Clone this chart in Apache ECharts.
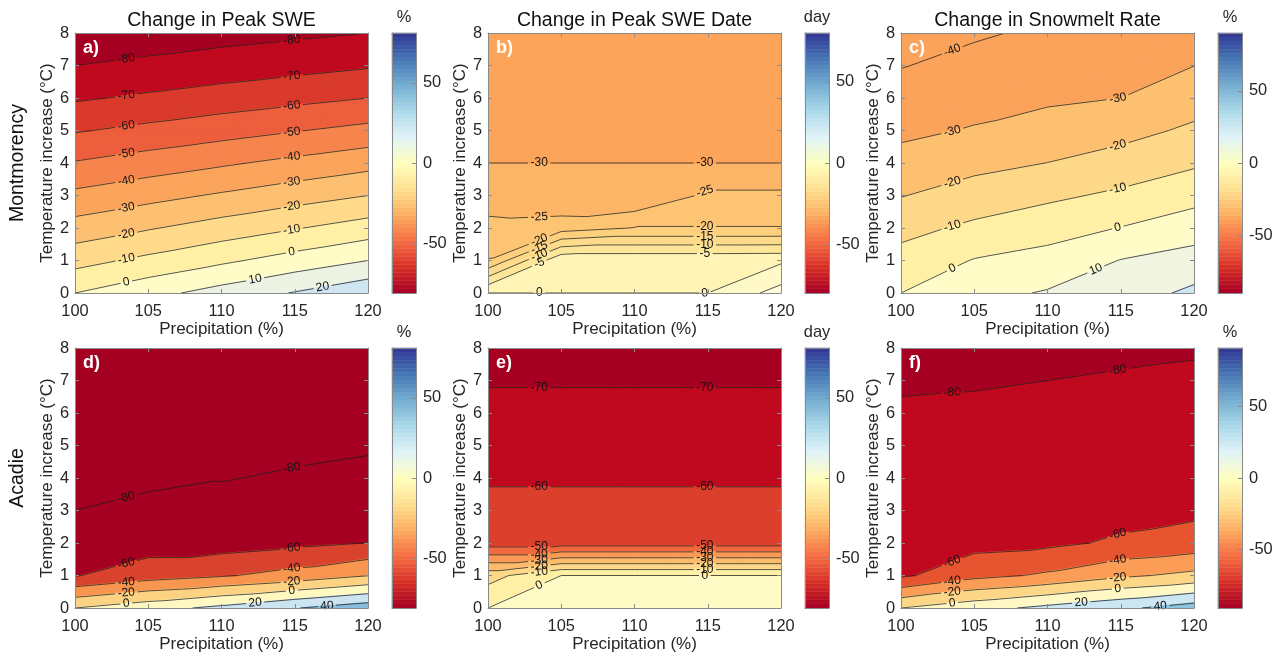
<!DOCTYPE html>
<html>
<head>
<meta charset="utf-8">
<title>Snow response to warming and precipitation</title>
<script src="https://cdn.jsdelivr.net/npm/echarts@6.0.0/dist/echarts.min.js"></script>
<style>
    html, body { margin: 0; padding: 0; background: #fff; }
    #chart { width: 1281px; height: 657px; }
</style>
</head>
<body>
<div id="chart"></div>
<script>
    // grid of the scenarios
    var precip = [100, 105, 110, 115, 120];
    var warming = [0, 1, 2, 3, 4, 5, 6, 7, 8];

    // rows = warming 0..8 °C, columns = precipitation 100..120 %
    var peakSweMont = [
      [0, 6.9, 13.8, 20.6, 27.5],
      [-13.5, -7.6, -1.8, 4.1, 10],
      [-25.9, -20.8, -15.7, -10.6, -5.5],
      [-37.6, -33.2, -28.8, -24.4, -20],
      [-49.3, -45.3, -41.4, -37.4, -33.4],
      [-60.8, -57.4, -54.0, -50.5, -47.1],
      [-71.2, -68.4, -65.6, -62.8, -60],
      [-80, -77.8, -75.5, -73.3, -71],
      [-87, -85.3, -83.5, -81.8, -80]
    ];
    var peakDateMont = [
      [0, 0, 0, 0, 7],
      [-19.8, -1, -1, -1, -0.8],
      [-23, -22.3, -19.8, -19.8, -19.8],
      [-28.5, -29.6, -30, -24, -24],
      [-30, -30, -30, -30, -30],
      [-31, -31, -31, -31, -31],
      [-32, -32, -32, -32, -32],
      [-33, -33, -33, -33, -33],
      [-33, -33, -33, -33, -33]
    ];
    var meltRateMont = [
      [0, 7, 10.8, 15.1, 22.1],
      [-6.3, 0.5, 3.6, 10.3, 14.0],
      [-13.1, -8.0, -4.1, 0.3, 5.4],
      [-20.4, -15.7, -11.9, -8.2, -3.4],
      [-26.7, -22.8, -19.9, -16.0, -11.4],
      [-32.0, -29.3, -26.1, -23.2, -18.3],
      [-36.2, -33.4, -31.5, -30.0, -24.4],
      [-40.4, -37.3, -35.5, -34.0, -30.1],
      [-45.0, -41.1, -38.5, -38.0, -35.0]
    ];
    var peakSweAcad = [
      [0, 12.3, 25, 39, 51.8],
      [-61, -49.2, -42, -32.7, -20.5],
      [-70.3, -68.8, -68.9, -64.4, -59.8],
      [-80, -76, -77, -74, -70],
      [-83, -83, -80.4, -79, -78],
      [-85, -85, -83, -82, -80.9],
      [-86, -86, -85, -84, -83],
      [-87, -87, -86, -85, -85],
      [-88, -88, -87, -86, -86]
    ];
    var peakDateAcad = [
      [0, 0, 0, 0, 0],
      [-13.9, 0, 0, 0, 0],
      [-55, -55, -55, -55, -55],
      [-57.3, -57.3, -57.3, -57.3, -57.3],
      [-61, -61, -61, -61, -61],
      [-64, -64, -64, -64, -64],
      [-67.5, -67.5, -67.5, -67.5, -67.5],
      [-70.7, -70.7, -70.7, -70.7, -70.7],
      [-73, -73, -73, -73, -73]
    ];
    var meltRateAcad = [
      [0, 12.9, 25, 36, 49.7],
      [-63.5, -45.9, -37, -23.6, -14.8],
      [-69, -66.6, -64.1, -57, -51.9],
      [-72.5, -71, -70, -67, -64],
      [-75, -74, -73, -71, -68],
      [-77, -76.5, -75.5, -74, -71.5],
      [-79, -78.8, -78, -76.5, -74.5],
      [-81, -80.6, -80, -78.5, -77.5],
      [-83, -82.5, -82, -83, -81.5]
    ];

    // contour levels
    var levelsSweMont = [-80, -70, -60, -50, -40, -30, -20, -10, 0, 10, 20];
    var levelsDateMont = [-30, -25, -20, -15, -10, -5, 0, 5];
    var levelsMeltMont = [-40, -30, -20, -10, 0, 10, 20];
    var levelsSweAcad = [-80, -60, -40, -20, 0, 20, 40];
    var levelsDateAcad = [-70, -60, -50, -40, -30, -20, -10, 0];
    var levelsMeltAcad = [-80, -60, -40, -20, 0, 20, 40];

    // colour limits of the colorbars (symmetric)
    var climits = [81, 80, 90, 81, 81, 91];
    var colorbarTicks = [-50, 0, 50];

    var titles = ['Change in Peak SWE', 'Change in Peak SWE Date', 'Change in Snowmelt Rate'];
    var units = ['%', 'day', '%'];
    var sites = ['Montmorency', 'Acadie'];
    var letters = ['a)', 'b)', 'c)', 'd)', 'e)', 'f)'];

    // band fill colours, lowest band first
    var fillsSweMont = ['#a50021', '#c0081f', '#d93a2b', '#ec5e3c', '#f6844d', '#fba45c', '#fdbf71', '#feda8a', '#fff0a6', '#fffcc8', '#edf3e3', '#cfe6f1'];
    var fillsDateMont = ['#fca55a', '#fdb567', '#fdc573', '#fed07e', '#fedb8b', '#fee699', '#fff4b6', '#fff9c8', '#fffcdc'];
    var fillsMeltMont = ['#fba35b', '#fba35b', '#fdbf70', '#fed889', '#fff0a6', '#fffcc8', '#f0f4e0', '#cde6f2'];
    var fillsSweAcad = ['#a50021', '#a50021', '#d9432d', '#f8964f', '#fed283', '#fff8c0', '#cbe4f0', '#88bddb'];
    var fillsDateAcad = ['#a50021', '#c0081f', '#dc3f2c', '#f3693f', '#fb9a55', '#fdbb6c', '#fed888', '#fff0a6', '#fffbc6'];
    var fillsMeltAcad = ['#a50021', '#c0081f', '#e6552f', '#fb9d57', '#fed687', '#fff8c4', '#cce6f2', '#8ec3e0'];

    var rdylbu = ['#a50026', '#d73027', '#f46d43', '#fdae61', '#fee090', '#ffffbf', '#e0f3f8', '#abd9e9', '#74add1', '#4575b4', '#313695'];

    var panels = [
      {values: peakSweMont, levels: levelsSweMont, fills: fillsSweMont, labelOverride: {10: [112.3], 20: [116.9]}},
      {values: peakDateMont, levels: levelsDateMont, fills: fillsDateMont, labelOverride: {5: []}},
      {values: meltRateMont, levels: levelsMeltMont, fills: fillsMeltMont, labelOverride: {10: [113.3], 20: []}},
      {values: peakSweAcad, levels: levelsSweAcad, fills: fillsSweAcad, labelOverride: {20: [112.3], 40: [117.2]}},
      {values: peakDateAcad, levels: levelsDateAcad, fills: fillsDateAcad, labelOverride: {}},
      {values: meltRateAcad, levels: levelsMeltAcad, fills: fillsMeltAcad, labelOverride: {20: [112.3], 40: [117.7]}}
    ];
    var labelXs = [103.5, 114.8];

    // layout
    var plotLeft = [75, 488, 901];
    var plotTop = [33, 348];
    var plotW = 293, plotH = 260;
    var cbLeft = [392, 805, 1218];
    var cbW = 24;
    var fontFam = '"Liberation Sans", Arial, sans-serif';
    var labelFont = '12px ' + fontFam;
    var boxColor = '#8a8a8a';
    var textColor = '#262626';

    var mctx = document.createElement('canvas').getContext('2d');
    mctx.font = labelFont;

    function hexRgb(h) {
      return [parseInt(h.substr(1, 2), 16), parseInt(h.substr(3, 2), 16), parseInt(h.substr(5, 2), 16)];
    }
    function cmap(t) {
      t = Math.max(0, Math.min(1, t));
      var s = t * (rdylbu.length - 1), k = Math.min(Math.floor(s), rdylbu.length - 2), u = s - k;
      var a = hexRgb(rdylbu[k]), b = hexRgb(rdylbu[k + 1]);
      return 'rgb(' + a.map(function (c, n) { return Math.round(c + u * (b[n] - c)); }).join(',') + ')';
    }

    // linear interpolation on the triangulated grid (diagonal bottom-left to top-right)
    function valueAt(values, x, y) {
      var i = 0; while (i < precip.length - 2 && x > precip[i + 1]) i++;
      var j = 0; while (j < warming.length - 2 && y > warming[j + 1]) j++;
      var u = (x - precip[i]) / (precip[i + 1] - precip[i]);
      var v = (y - warming[j]) / (warming[j + 1] - warming[j]);
      var f00 = values[j][i], f10 = values[j][i + 1], f01 = values[j + 1][i], f11 = values[j + 1][i + 1];
      if (u >= v) return f00 + u * (f10 - f00) + v * (f11 - f10);
      return f00 + v * (f01 - f00) + u * (f11 - f01);
    }
    function crossingY(values, x, level) {
      var y0 = warming[0], y1 = warming[warming.length - 1], n = 1600;
      var prevY = y0, prev = valueAt(values, x, y0);
      for (var k = 1; k <= n; k++) {
        var y = y0 + (y1 - y0) * k / n;
        var cur = valueAt(values, x, y);
        if ((prev >= level) !== (cur >= level)) {
          return prevY + (level - prev) / (cur - prev) * (y - prevY);
        }
        prev = cur; prevY = y;
      }
      return null;
    }

    function cellData(values) {
      var items = [];
      for (var j = 0; j < warming.length - 1; j++) {
        for (var i = 0; i < precip.length - 1; i++) {
          items.push([precip[i], warming[j], precip[i + 1], warming[j + 1],
            values[j][i], values[j][i + 1], values[j + 1][i], values[j + 1][i + 1]]);
        }
      }
      return items;
    }

    function labelData(p) {
      var items = [];
      p.levels.forEach(function (lev) {
        var xs = p.labelOverride.hasOwnProperty(lev) ? p.labelOverride[lev] : labelXs;
        xs.forEach(function (x) {
          var y = crossingY(p.values, x, lev);
          if (y === null) return;
          var ya = crossingY(p.values, x - 0.4, lev), yb = crossingY(p.values, x + 0.4, lev);
          if (ya === null) ya = y;
          if (yb === null) yb = y;
          items.push([x, y, lev, x - 0.4, ya, x + 0.4, yb]);
        });
      });
      return items;
    }

    function clipHalf(poly, L, keepAbove) {
      var out = [];
      for (var k = 0; k < poly.length; k++) {
        var P = poly[k], Q = poly[(k + 1) % poly.length];
        var pin = keepAbove ? P.f >= L : P.f <= L;
        var qin = keepAbove ? Q.f >= L : Q.f <= L;
        if (pin) out.push(P);
        if (pin !== qin) {
          var t = (L - P.f) / (Q.f - P.f);
          out.push({x: P.x + t * (Q.x - P.x), y: P.y + t * (Q.y - P.y), f: L});
        }
      }
      return out;
    }

    function triSegment(tri, L) {
      var above = tri.map(function (p) { return p.f >= L; });
      var cnt = above.filter(Boolean).length;
      if (cnt === 0 || cnt === 3) return null;
      var lone;
      for (var k = 0; k < 3; k++) {
        if ((cnt === 1 && above[k]) || (cnt === 2 && !above[k])) lone = k;
      }
      var a = tri[lone], o1 = tri[(lone + 1) % 3], o2 = tri[(lone + 2) % 3];
      var t1 = (L - a.f) / (o1.f - a.f), t2 = (L - a.f) / (o2.f - a.f);
      return [
        [a.x + t1 * (o1.x - a.x), a.y + t1 * (o1.y - a.y)],
        [a.x + t2 * (o2.x - a.x), a.y + t2 * (o2.y - a.y)]
      ];
    }

    function cutByCircle(seg, c, r) {
      var a = seg[0], b = seg[1];
      var dx = b[0] - a[0], dy = b[1] - a[1];
      var fx = a[0] - c[0], fy = a[1] - c[1];
      var A = dx * dx + dy * dy, B = 2 * (fx * dx + fy * dy), C = fx * fx + fy * fy - r * r;
      var disc = B * B - 4 * A * C;
      if (A < 1e-9 || disc <= 0) return [seg];
      var sq = Math.sqrt(disc), t1 = (-B - sq) / (2 * A), t2 = (-B + sq) / (2 * A);
      if (t2 <= 0 || t1 >= 1) return [seg];
      var res = [];
      if (t1 > 0) res.push([a, [a[0] + t1 * dx, a[1] + t1 * dy]]);
      if (t2 < 1) res.push([[a[0] + t2 * dx, a[1] + t2 * dy], b]);
      return res;
    }

    function cellTris(api) {
      var x0 = api.value(0), y0 = api.value(1), x1 = api.value(2), y1 = api.value(3);
      var P00 = {x: x0, y: y0, f: api.value(4)}, P10 = {x: x1, y: y0, f: api.value(5)};
      var P01 = {x: x0, y: y1, f: api.value(6)}, P11 = {x: x1, y: y1, f: api.value(7)};
      return [[P00, P10, P11], [P00, P01, P11]];
    }

    var grids = [], xAxes = [], yAxes = [], series = [], texts = [];

    function addAxes(gi, xmin, xmax, ymin, ymax, isBar) {
      var line = {show: true, onZero: false, lineStyle: {color: boxColor, width: 1}};
      var tick = {show: !isBar, inside: true, length: 4, lineStyle: {color: boxColor, width: 1}};
      var none = {show: false};
      xAxes.push({gridIndex: gi, type: 'value', position: 'bottom', min: xmin, max: xmax, interval: isBar ? 1 : 5, z: 5,
        axisLine: line, axisTick: tick, splitLine: none,
        axisLabel: isBar ? none : {show: true, color: textColor, fontSize: 16.4, fontFamily: fontFam, margin: 10, showMinLabel: true, showMaxLabel: true}});
      xAxes.push({gridIndex: gi, type: 'value', position: 'top', min: xmin, max: xmax, interval: isBar ? 1 : 5, z: 5,
        axisLine: line, axisTick: tick, splitLine: none, axisLabel: none});
      yAxes.push({gridIndex: gi, type: 'value', position: 'left', min: ymin, max: ymax, interval: isBar ? undefined : 1, z: 5,
        axisLine: line, axisTick: tick, splitLine: none,
        axisLabel: isBar ? none : {show: true, color: textColor, fontSize: 16.4, fontFamily: fontFam, margin: 6, showMinLabel: true, showMaxLabel: true}});
      yAxes.push({gridIndex: gi, type: 'value', position: 'right', min: ymin, max: ymax, interval: isBar ? undefined : 1, z: 5,
        axisLine: line, splitLine: none,
        axisTick: isBar ? {show: true, inside: true, length: 4, customValues: colorbarTicks, lineStyle: {color: boxColor}} : tick,
        axisLabel: isBar ? {show: true, color: textColor, fontSize: 16.4, fontFamily: fontFam, margin: 7, customValues: colorbarTicks} : none});
      return {x: xAxes.length - 2, y: yAxes.length - 2};
    }

    function txt(x, y, s, font, opts) {
      opts = opts || {};
      return {type: 'text', x: x, y: y, rotation: opts.rotation || 0, z: 50, silent: true,
        style: {text: s, font: font, fill: opts.fill || '#111',
          align: opts.align || 'center', verticalAlign: 'middle',
          textAlign: opts.align || 'center', textVerticalAlign: 'middle'}};
    }

    panels.forEach(function (p, idx) {
      var r = Math.floor(idx / 3), c = idx % 3;
      var clim = climits[idx];

      // contour plot
      grids.push({left: plotLeft[c], top: plotTop[r], width: plotW, height: plotH, outerBoundsMode: 'none'});
      var ax = addAxes(grids.length - 1, precip[0], precip[precip.length - 1], warming[0], warming[warming.length - 1], false);
      var cells = cellData(p.values);
      var labels = labelData(p);

      series.push({
        type: 'custom', xAxisIndex: ax.x, yAxisIndex: ax.y, z: 1, clip: true, silent: true,
        encode: {x: [0, 2], y: [1, 3]},
        data: cells,
        renderItem: function (params, api) {
          var tris = cellTris(api), children = [];
          for (var b = 0; b <= p.levels.length; b++) {
            var lo = b === 0 ? null : p.levels[b - 1];
            var hi = b === p.levels.length ? null : p.levels[b];
            tris.forEach(function (tri) {
              var poly = tri;
              if (lo !== null) poly = clipHalf(poly, lo, true);
              if (hi !== null && poly.length) poly = clipHalf(poly, hi, false);
              if (poly.length < 3) return;
              var pts = poly.map(function (q) { return api.coord([q.x, q.y]); });
              var area = 0;
              for (var k = 0; k < pts.length; k++) {
                var n = pts[(k + 1) % pts.length];
                area += pts[k][0] * n[1] - n[0] * pts[k][1];
              }
              if (Math.abs(area) < 0.01) return;
              children.push({type: 'polygon', shape: {points: pts},
                style: {fill: p.fills[b], stroke: p.fills[b], lineWidth: 1.6, lineJoin: 'round'}});
            });
          }
          return {type: 'group', children: children};
        }
      });

      series.push({
        type: 'custom', xAxisIndex: ax.x, yAxisIndex: ax.y, z: 2, clip: true, silent: true,
        encode: {x: [0, 2], y: [1, 3]},
        data: cells,
        renderItem: function (params, api) {
          var tris = cellTris(api), children = [];
          p.levels.forEach(function (lev) {
            var txtW = mctx.measureText(String(lev)).width;
            var circles = labels.filter(function (l) { return l[2] === lev; })
              .map(function (l) { return api.coord([l[0], l[1]]); });
            tris.forEach(function (tri) {
              var s = triSegment(tri, lev);
              if (!s) return;
              var seg = [api.coord(s[0]), api.coord(s[1])];
              if (Math.abs(seg[0][0] - seg[1][0]) + Math.abs(seg[0][1] - seg[1][1]) < 0.01) return;
              var pieces = [seg];
              circles.forEach(function (cc) {
                var next = [];
                pieces.forEach(function (pc) { next = next.concat(cutByCircle(pc, cc, txtW / 2 + 2.5)); });
                pieces = next;
              });
              pieces.forEach(function (pc) {
                children.push({type: 'line', shape: {x1: pc[0][0], y1: pc[0][1], x2: pc[1][0], y2: pc[1][1]},
                  style: {stroke: '#1e1e1e', lineWidth: 0.75}});
              });
            });
          });
          return {type: 'group', children: children};
        }
      });

      series.push({
        type: 'custom', xAxisIndex: ax.x, yAxisIndex: ax.y, z: 3, clip: false, silent: true,
        encode: {x: 0, y: 1},
        data: labels,
        renderItem: function (params, api) {
          var pt = api.coord([api.value(0), api.value(1)]);
          var pa = api.coord([api.value(3), api.value(4)]);
          var pb = api.coord([api.value(5), api.value(6)]);
          var ang = Math.atan2(-(pb[1] - pa[1]), pb[0] - pa[0]);
          return {type: 'text', x: pt[0], y: pt[1], rotation: ang,
            style: {text: String(api.value(2)), font: labelFont, fill: '#141414',
              align: 'center', verticalAlign: 'middle', textAlign: 'center', textVerticalAlign: 'middle'}};
        }
      });

      // colorbar
      grids.push({left: cbLeft[c], top: plotTop[r], width: cbW, height: plotH, outerBoundsMode: 'none'});
      var bx = addAxes(grids.length - 1, 0, 1, -clim, clim, true);
      var steps = [];
      for (var k = 0; k < 64; k++) {
        var lo = -clim + k * 2 * clim / 64;
        steps.push([lo, lo + 2 * clim / 64, (k + 0.5) / 64]);
      }
      series.push({
        type: 'custom', xAxisIndex: bx.x, yAxisIndex: bx.y, z: 1, silent: true,
        encode: {y: [0, 1]},
        data: steps,
        renderItem: function (params, api) {
          var a = api.coord([0, api.value(0)]), b = api.coord([1, api.value(1)]);
          var col = cmap(api.value(2));
          return {type: 'rect', shape: {x: a[0], y: b[1], width: b[0] - a[0], height: a[1] - b[1]},
            style: {fill: col, stroke: col, lineWidth: 0.5}};
        }
      });

      // texts
      var cx = plotLeft[c] + plotW / 2, cy = plotTop[r] + plotH / 2;
      if (r === 0) texts.push(txt(cx, 21, titles[c], '19.5px ' + fontFam));
      texts.push(txt(cx, plotTop[r] + plotH + 36, 'Precipitation (%)', '17px ' + fontFam, {fill: textColor}));
      texts.push(txt(plotLeft[c] - 28, cy, 'Temperature increase (°C)', '17px ' + fontFam, {rotation: Math.PI / 2, fill: textColor}));
      texts.push(txt(cbLeft[c] + cbW / 2, plotTop[r] - 16, units[c], '16.4px ' + fontFam, {fill: textColor}));
      texts.push(txt(plotLeft[c] + 8, plotTop[r] + 15, letters[idx], 'bold 18px ' + fontFam, {fill: '#ffffff', align: 'left'}));
      if (c === 0) texts.push(txt(18, cy, sites[r], '19.5px ' + fontFam, {rotation: Math.PI / 2}));
    });

    var myChart = echarts.init(document.getElementById('chart'));
    myChart.setOption({
      animation: false,
      backgroundColor: '#ffffff',
      grid: grids,
      xAxis: xAxes,
      yAxis: yAxes,
      series: series,
      graphic: {elements: texts}
    });
</script>
</body>
</html>
